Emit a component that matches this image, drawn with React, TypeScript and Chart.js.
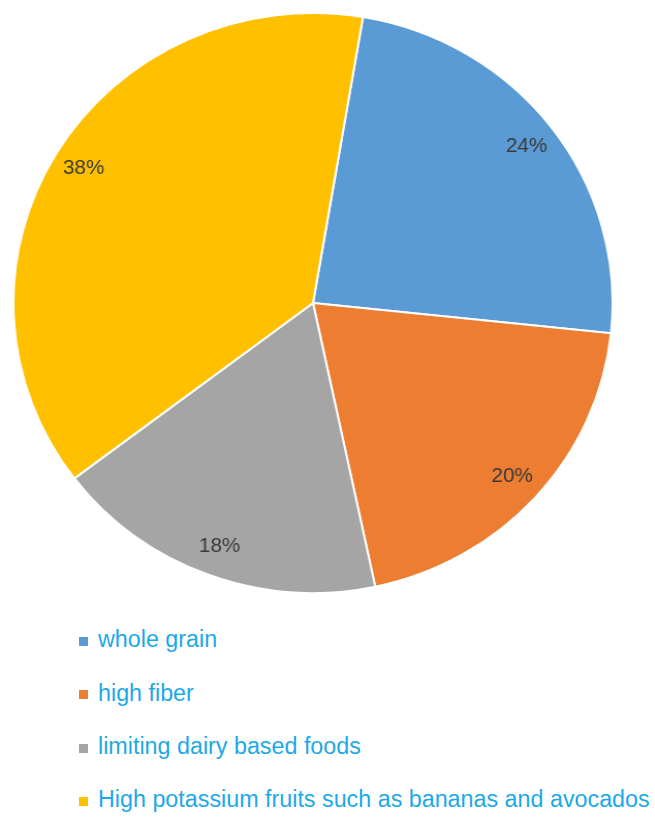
import React, { useEffect, useRef } from "react";
import { Chart, registerables } from "chart.js";

Chart.register(...registerables);

const categories = [
  "whole grain",
  "high fiber",
  "limiting dairy based foods",
  "High potassium fruits such as bananas and avocados",
];
const values = [24, 20, 18, 38];
const percentLabels = ["24%", "20%", "18%", "38%"];
const colors = ["#5B9BD5", "#ED7D31", "#A5A5A5", "#FFC000"];

const labelPlugin = {
  id: "sliceLabels",
  afterDatasetsDraw(chart: any) {
    const ctx = chart.ctx;
    const meta = chart.getDatasetMeta(0);
    ctx.save();
    ctx.font = "20px 'Liberation Sans', Arial, sans-serif";
    ctx.fillStyle = "#3A3A3A";
    ctx.textAlign = "center";
    ctx.textBaseline = "middle";
    meta.data.forEach((arc: any, i: number) => {
      const p = arc.getProps(["x", "y", "startAngle", "endAngle", "outerRadius"], true);
      const mid = (p.startAngle + p.endAngle) / 2;
      const r = p.outerRadius * 0.895;
      ctx.fillText(percentLabels[i], p.x + Math.cos(mid) * r, p.y + Math.sin(mid) * r);
    });
    ctx.restore();
  },
};

export default function App() {
  const ref = useRef<HTMLCanvasElement>(null);
  useEffect(() => {
    if (!ref.current) return;
    const chart = new Chart(ref.current, {
      type: "pie",
      data: {
        labels: categories,
        datasets: [
          {
            data: values,
            backgroundColor: colors,
            borderColor: "#ffffff",
            borderWidth: 2,
          },
        ],
      },
      options: {
        responsive: false,
        animation: false,
        rotation: 9.6,
        layout: { padding: 0 },
        plugins: {
          legend: { display: false },
          tooltip: { enabled: false },
        },
      },
      plugins: [labelPlugin],
    });
    return () => chart.destroy();
  }, []);

  return (
    <div style={{ position: "absolute", left: 0, top: 0, width: 655, height: 817, background: "#fff" }}>
      <canvas
        ref={ref}
        width={582}
        height={582}
        style={{
          position: "absolute",
          left: 21.5,
          top: 11.5,
          width: 582,
          height: 582,
          transform: "scaleX(1.033)",
          transformOrigin: "50% 50%",
        }}
      />
      <div style={{ position: "absolute", left: 79, top: 613.3 }}>
        {categories.map((c, i) => (
          <div
            key={c}
            style={{
              height: 53.3,
              display: "flex",
              alignItems: "center",
              whiteSpace: "nowrap",
              font: "23.3px 'Liberation Sans', Arial, sans-serif",
              color: "#1DA9E6",
            }}
          >
            <span style={{ display: "inline-block", width: 9, height: 9, background: colors[i], marginRight: 10, marginTop: 3 }} />
            <span>{c}</span>
          </div>
        ))}
      </div>
    </div>
  );
}
